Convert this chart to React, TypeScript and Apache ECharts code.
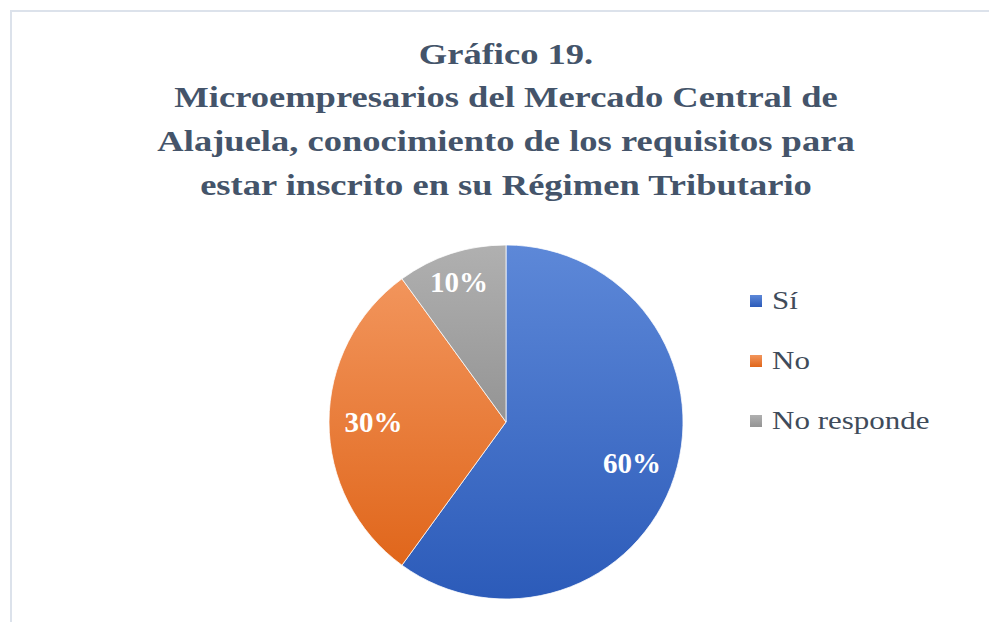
import React, { useEffect, useRef } from "react";
import * as echarts from "echarts";

const titleLines = [
  "Gráfico 19.",
  "Microempresarios del Mercado Central de",
  "Alajuela, conocimiento de los requisitos para",
  "estar inscrito en su Régimen Tributario",
];
const categories = ["Sí", "No", "No responde"];
const values = [60, 30, 10];
const gradientTops = ["#5d88d8", "#f2955c", "#b0b0b0"];
const gradientBottoms = ["#2c5bb9", "#e0661b", "#949494"];

export default function App() {
  const ref = useRef<HTMLDivElement>(null);

  useEffect(() => {
    if (!ref.current) return;
    const chart = echarts.init(ref.current, null, { renderer: "svg" });

    const titleColor = "#44546a";
    const titleGraphics = titleLines.map((line, i) => ({
      type: "text",
      x: 506,
      y: 54 + i * 43.7,
      scaleX: 1.26,
      style: {
        text: line,
        fontFamily: "'Liberation Serif', 'Times New Roman', serif",
        fontWeight: "bold",
        fontSize: 29,
        fill: titleColor,
        align: "center",
        verticalAlign: "middle",
      },
    }));

    const legendGraphics: any[] = [];
    categories.forEach((name, i) => {
      const cy = 301 + i * 60;
      legendGraphics.push({
        type: "rect",
        shape: { x: 750, y: cy - 6, width: 12, height: 12 },
        style: {
          fill: new echarts.graphic.LinearGradient(0, 0, 0, 1, [
            { offset: 0, color: gradientTops[i] },
            { offset: 1, color: gradientBottoms[i] },
          ]),
        },
      });
      legendGraphics.push({
        type: "text",
        x: 772,
        y: cy,
        scaleX: 1.24,
        style: {
          text: name,
          fontFamily: "'Liberation Serif', 'Times New Roman', serif",
          fontSize: 25,
          fill: "#404b5a",
          align: "left",
          verticalAlign: "middle",
        },
      });
    });

    const pieData = categories.map((name, i) => ({
      name,
      value: values[i],
      itemStyle: {
        color: new echarts.graphic.LinearGradient(0, 0, 0, 1, [
          { offset: 0, color: gradientTops[i] },
          { offset: 1, color: gradientBottoms[i] },
        ]),
      },
    }));

    const labelData = categories.map((name, i) => ({ name, value: values[i] }));

    chart.setOption({
      animation: false,
      backgroundColor: "#ffffff",
      graphic: [
        {
          type: "rect",
          shape: { x: 11, y: 11, width: 1100, height: 800 },
          style: { fill: "none", stroke: "#dce2eb", lineWidth: 2 },
          z: -10,
        },
        ...titleGraphics,
        ...legendGraphics,
      ],
      series: [
        {
          type: "pie",
          center: [506, 422],
          radius: [0, 177],
          startAngle: 90,
          clockwise: true,
          data: pieData,
          label: { show: false },
          labelLine: { show: false },
          itemStyle: { borderColor: "#ffffff", borderWidth: 0.75 },
          emphasis: { disabled: true },
        },
        {
          type: "pie",
          center: [506, 422],
          radius: [82, 177],
          startAngle: 90,
          clockwise: true,
          silent: true,
          data: labelData,
          itemStyle: { color: "rgba(0,0,0,0)" },
          label: {
            show: true,
            position: "inside",
            formatter: "{c}%",
            color: "#ffffff",
            fontFamily: "'Liberation Serif', 'Times New Roman', serif",
            fontWeight: "bold",
            fontSize: 29,
          },
          labelLayout: (params: any) =>
            params.dataIndex === 2 ? { dx: -6, dy: -14 } : {},
          labelLine: { show: false },
          emphasis: { disabled: true },
          z: 5,
        },
      ],
    });

    return () => chart.dispose();
  }, []);

  return (
    <div
      ref={ref}
      style={{ position: "fixed", left: 0, top: 0, width: 989, height: 622 }}
    />
  );
}
